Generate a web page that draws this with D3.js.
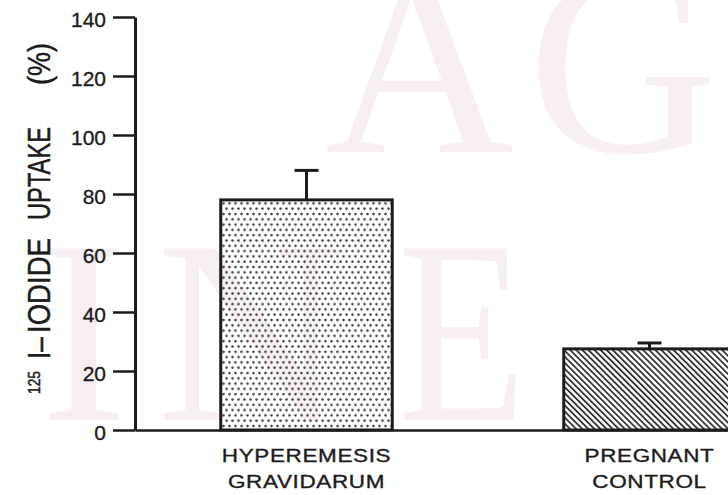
<!DOCTYPE html>
<html>
<head>
<meta charset="utf-8">
<script src="https://cdn.jsdelivr.net/npm/d3@7"></script>
<style>
  html, body { margin: 0; padding: 0; background: #fff; }
  svg { display: block; }
  .sans { font-family: "Liberation Sans", Arial, Helvetica, sans-serif; fill: #1c1c1c; stroke: #1c1c1c; stroke-width: 0.35px; }
  .serif { font-family: "Liberation Serif", "DejaVu Serif", serif; }
</style>
</head>
<body>
<svg id="chart" width="728" height="495"></svg>
<script>
// Thyroid 125I-iodide uptake, mean ± SEM per group
const groups = ["HYPEREMESIS GRAVIDARUM", "PREGNANT CONTROL"];
const groupLabelLines = [["HYPEREMESIS", "GRAVIDARUM"], ["PREGNANT", "CONTROL"]];
const meanUptake = [78, 27.5];
const semUptake = [10, 2];
const yTickValues = [0, 20, 40, 60, 80, 100, 120, 140];

const svg = d3.select("#chart");
const ink = "#1c1c1c";

// faint background lettering
const wm = svg.append("g");
[["A", 325, 152, 1], ["G", 528, 152, 1], ["I", 40, 420, 1], ["N", 156, 420, 1], ["E", 398, 420, 0.8]]
  .forEach(([ch, px, py, sx]) => {
    wm.append("text").attr("class", "serif")
      .attr("transform", `translate(${px},${py}) scale(${sx},1)`)
      .style("font-size", "262px").style("fill", "#f7eff2").text(ch);
  });

// fill patterns
const defs = svg.append("defs");
const dots = defs.append("pattern").attr("id", "stipple")
  .attr("patternUnits", "userSpaceOnUse").attr("width", 6).attr("height", 10.6);
dots.append("circle").attr("cx", 1.5).attr("cy", 2).attr("r", 1.3).attr("fill", "#444");
dots.append("circle").attr("cx", 4.5).attr("cy", 7.3).attr("r", 1.3).attr("fill", "#444");

const hatch = defs.append("pattern").attr("id", "hatch")
  .attr("patternUnits", "userSpaceOnUse").attr("width", 4.3).attr("height", 10)
  .attr("patternTransform", "rotate(-45)");
hatch.append("rect").attr("x", 0).attr("y", 0).attr("width", 1.8).attr("height", 10).attr("fill", "#333");

const fills = ["url(#stipple)", "url(#hatch)"];

// scales
const axisX = 135;
const x = d3.scaleBand().domain(groups).range([axisX, 821]).paddingInner(0.5).paddingOuter(0.25);
const y = d3.scaleLinear().domain([0, 140]).range([430, 17]);

// bars
svg.append("g").selectAll("rect").data(groups).join("rect")
  .attr("x", d => x(d))
  .attr("y", (d, i) => y(meanUptake[i]))
  .attr("width", x.bandwidth())
  .attr("height", (d, i) => y(0) - y(meanUptake[i]))
  .attr("fill", (d, i) => fills[i])
  .attr("stroke", ink).attr("stroke-width", 3);

// error bars (upper arm only)
const eb = svg.append("g").attr("stroke", ink).attr("stroke-width", 3);
groups.forEach((g, i) => {
  const cx = x(g) + x.bandwidth() / 2;
  const top = y(meanUptake[i] + semUptake[i]);
  eb.append("line").attr("x1", cx).attr("x2", cx).attr("y1", y(meanUptake[i])).attr("y2", top);
  eb.append("line").attr("x1", cx - 12).attr("x2", cx + 12).attr("y1", top).attr("y2", top);
});

// x axis line
const xAxis = svg.append("g").attr("transform", `translate(0,${y(0)})`)
  .call(d3.axisBottom(x).tickSize(0).tickSizeOuter(0).tickFormat(""));
xAxis.select(".domain").attr("stroke", ink).attr("stroke-width", 2.5);

// y axis
const yAxis = svg.append("g").attr("transform", `translate(${axisX},0)`)
  .call(d3.axisLeft(y).tickValues(yTickValues).tickSize(22).tickSizeOuter(0).tickPadding(7));
yAxis.select(".domain").attr("stroke", ink).attr("stroke-width", 3);
yAxis.selectAll(".tick line").attr("stroke", ink).attr("stroke-width", 2.5);
yAxis.selectAll(".tick text")
  .attr("class", "sans")
  .attr("dy", "0.45em")
  .style("font-size", "21px");

// category labels
groups.forEach((g, i) => {
  const cx = x(g) + x.bandwidth() / 2;
  groupLabelLines[i].forEach((line, j) => {
    svg.append("text").attr("class", "sans")
      .attr("transform", `translate(${cx},${462 + j * 26}) scale(1.25,1)`)
      .attr("text-anchor", "middle")
      .style("font-size", "18px").style("letter-spacing", "0.5px")
      .text(line);
  });
});

// y axis title, set word by word along the rotated baseline
const yt = svg.append("g").attr("transform", "translate(50,394) rotate(-90) scale(1,1.45)");
const titleParts = [
  { t: "125", at: 0, len: 23, size: 12, shift: -7 },
  { t: "I–", at: 35, len: 22, size: 22, shift: 0 },
  { t: "IODIDE", at: 61, len: 95, size: 22, shift: 0 },
  { t: "UPTAKE", at: 174, len: 93, size: 22, shift: 0 },
  { t: "(%)", at: 309, len: 42, size: 22, shift: 0 }
];
titleParts.forEach(p => {
  yt.append("text").attr("class", "sans")
    .attr("x", p.at).attr("y", p.shift)
    .attr("textLength", p.len).attr("lengthAdjust", "spacingAndGlyphs")
    .style("font-size", p.size + "px")
    .text(p.t);
});
</script>
</body>
</html>
